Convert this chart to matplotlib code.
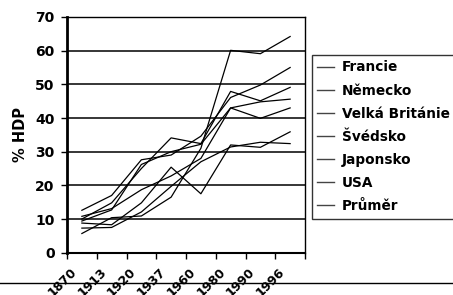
import matplotlib
matplotlib.use("Agg")
import matplotlib.pyplot as plt
from matplotlib.lines import Line2D
from matplotlib.transforms import ScaledTranslation
import numpy as np

years = ["1870", "1913", "1920", "1937", "1960", "1980", "1990", "1996"]
francie = [12.6, 17.0, 27.6, 29.0, 34.6, 46.1, 49.8, 55.0]
nemecko = [10.0, 14.8, 25.0, 34.1, 32.4, 47.9, 45.1, 49.1]
velka_britanie = [9.4, 12.7, 26.2, 30.0, 32.2, 43.0, 39.9, 43.0]
svedsko = [5.7, 10.4, 10.9, 16.5, 31.0, 60.1, 59.1, 64.2]
japonsko = [8.8, 8.3, 14.8, 25.4, 17.5, 32.0, 31.3, 35.9]
usa = [7.3, 7.5, 12.1, 19.7, 27.0, 31.4, 32.8, 32.4]
prumer = [10.8, 13.1, 18.7, 22.8, 28.0, 43.0, 44.8, 45.6]

series = [("Francie", francie), ("Německo", nemecko), ("Velká Británie", velka_britanie),
          ("Švédsko", svedsko), ("Japonsko", japonsko), ("USA", usa), ("Průměr", prumer)]

plt.rcParams['font.family'] = ['DejaVu Sans']
fig = plt.figure(figsize=(4.53, 2.95), dpi=100)
ax = fig.add_axes([67/453, 1-252.7/295, (305-67)/453, (252.7-17)/295])

x = np.arange(len(years))
for name, vals in series:
    ax.plot(x, vals, color='black', lw=0.9, label=name)

ax.set_xlim(-0.5, len(years)-0.5)
ax.set_ylim(0, 70)
ax.set_yticks(range(0, 71, 10))
ax.yaxis.grid(True, color='black', lw=1.1)
ax.set_axisbelow(True)
ax.set_xticks(x)
ax.set_xticklabels(years, rotation=45, ha='right', va='top', rotation_mode='anchor',
                   fontsize=9, fontweight='bold')
ax.tick_params(axis='x', length=0, pad=9)
off = ScaledTranslation(-12/100, 0, fig.dpi_scale_trans)
for lab in ax.get_xticklabels():
    lab.set_transform(lab.get_transform() + off)
ax.set_xticks(np.arange(-0.5, len(years), 1), minor=True)
ax.tick_params(axis='x', which='minor', length=4, width=1, direction='out')
ax.tick_params(axis='y', length=4, width=1, direction='out', labelsize=10, pad=5)
for lab in ax.get_yticklabels():
    lab.set_fontweight('bold')
ax.set_ylabel("% HDP", fontsize=10.5, fontweight='bold', labelpad=5)

for s in ax.spines.values():
    s.set_linewidth(1.0)
ax.spines['left'].set_linewidth(2.0)
ax.spines['bottom'].set_linewidth(1.5)

leg = fig.legend(loc='upper left', bbox_to_anchor=(312/453, 1-55/295),
                 prop={'size': 9.8, 'weight': 'bold'}, frameon=True, fancybox=False,
                 edgecolor='black', handlelength=1.2, handletextpad=0.6,
                 labelspacing=0.67, borderpad=0.4, borderaxespad=0)
leg.get_frame().set_linewidth(1.0)
for h in leg.get_lines():
    h.set_color('#444444')
    h.set_linewidth(1.0)

fig.add_artist(Line2D([0, 1], [1-283/295, 1-283/295], color='black', lw=1.0,
                      transform=fig.transFigure))

fig.savefig("out.png", dpi=100)
